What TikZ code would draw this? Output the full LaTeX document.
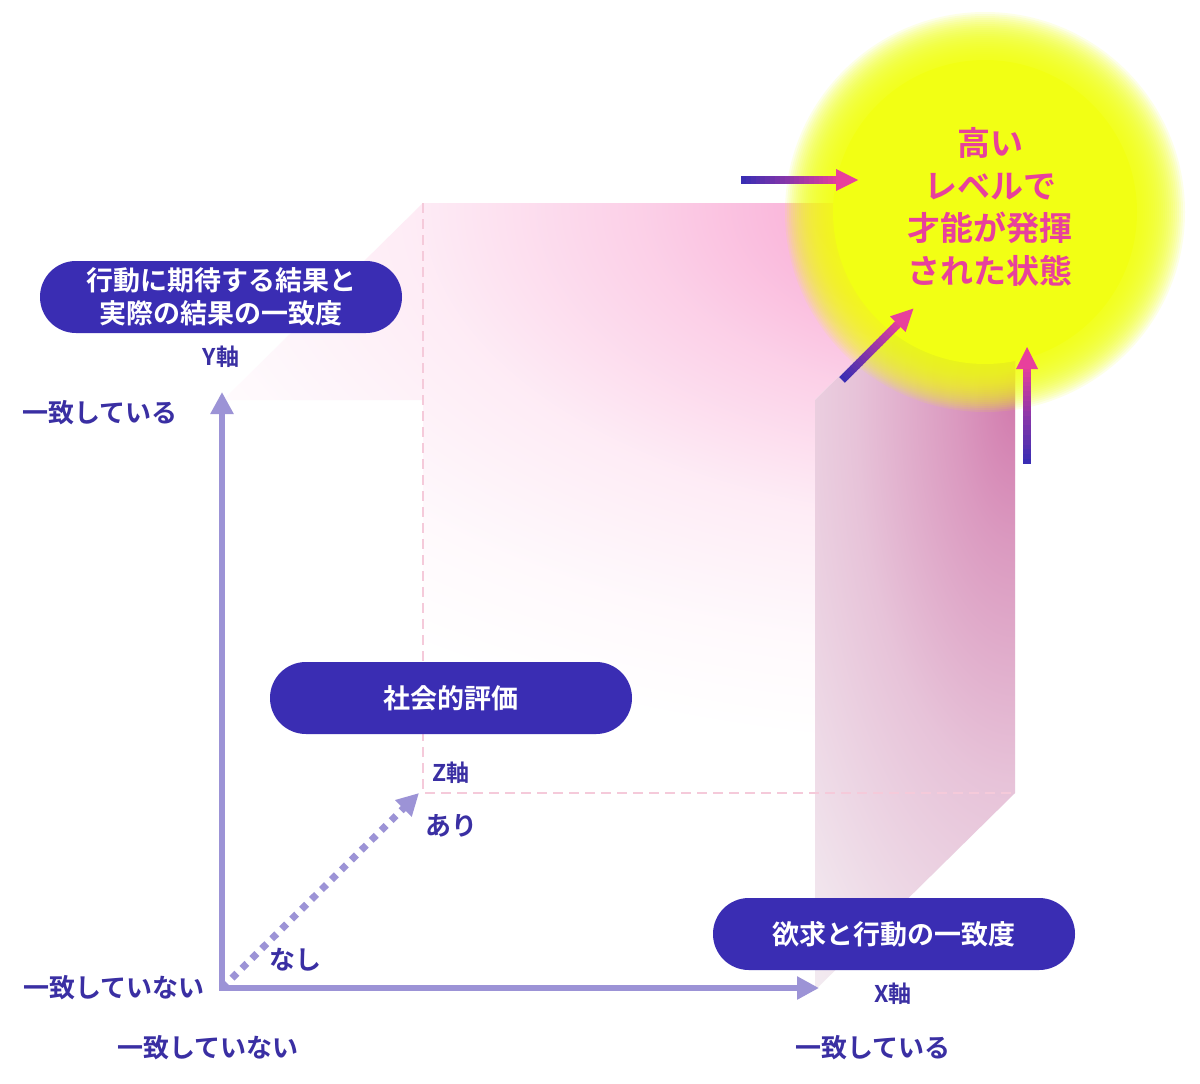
\documentclass[tikz,border=0pt]{standalone}
\usepackage{fontspec}
\setmainfont{Noto Sans CJK JP}[BoldFont={Noto Sans CJK JP Bold}]
\usetikzlibrary{arrows.meta}
\definecolor{indigo}{HTML}{3A2DB3}
\definecolor{txtblue}{HTML}{3A2FA3}
\definecolor{axisc}{HTML}{9C93D6}
\definecolor{magc}{HTML}{E8409C}
\definecolor{pinkc}{HTML}{F89FCF}
\definecolor{mauve}{HTML}{D27CAE}
\definecolor{faceout}{HTML}{F5F2F5}
\definecolor{glowy}{HTML}{F2FF14}
\definecolor{dashpink}{HTML}{F5CADA}
\pgfdeclareradialshading{cubepink}{\pgfpoint{0bp}{0bp}}{color(0bp)=(pinkc); color(3bp)=(pinkc!85!white); color(7bp)=(pinkc!50!white); color(11.5bp)=(pinkc!20!white); color(16bp)=(pinkc!6!white); color(19.5bp)=(white); color(50bp)=(white)}
\pgfdeclareradialshading{facemauve}{\pgfpoint{0bp}{0bp}}{color(0bp)=(mauve); color(3bp)=(mauve!75!faceout); color(8bp)=(mauve!40!faceout); color(14bp)=(mauve!12!faceout); color(18bp)=(faceout); color(50bp)=(faceout)}
\newcommand{\gradarrow}[4]{%
  \begin{scope}[shift={(#1,#2)},rotate=#3]
    \foreach \i in {0,...,19}{%
      \pgfmathsetmacro\pa{(\i/20)*(#4-20)}%
      \pgfmathsetmacro\pb{((\i+1)/20)*(#4-20)+0.8}%
      \pgfmathtruncatemacro\pc{100-\i*5}%
      \fill[indigo!\pc!magc] (\pa,-4) rectangle (\pb,4);
    }
    \fill[magc] (#4-22,-11) -- (#4,0) -- (#4-22,11) -- cycle;
  \end{scope}}
\tikzset{
  pill/.style={fill=indigo, rounded corners=35.9pt, minimum width=362pt, minimum height=72pt,
    text=white, font=\bfseries\fontsize{27}{33}\selectfont, align=center, inner sep=0pt},
  lbl/.style={text=txtblue, font=\bfseries\fontsize{26}{30}\selectfont, inner sep=0pt},
  axlbl/.style={text=txtblue, font=\bfseries\fontsize{23}{28}\selectfont, inner sep=0pt},
  axisline/.style={draw=axisc, line width=6pt, -{Triangle[length=22pt,width=22pt]}},
  backedge/.style={draw=dashpink, line width=2pt, dash pattern=on 10pt off 6pt},
}
\begin{document}
\begin{tikzpicture}[x=1pt,y=-1pt]
\useasboundingbox (0,0) rectangle (1200,1084);
\fill[white] (0,0) rectangle (1200,1084);
% back + top face pink
\begin{scope}
  \clip (223,400) -- (423,203) -- (1015,203) -- (1015,793) -- (423,793) -- (423,400) -- cycle;
  \shade[shading=cubepink] (1010,205) ellipse [x radius=1300, y radius=700];
\end{scope}
% right face
\begin{scope}
  \clip (815,400) -- (1015,203) -- (1015,793) -- (815,990) -- cycle;
  \fill[faceout] (815,200) rectangle (1015,990);
  \shade[shading=facemauve] (1015,400) ellipse [x radius=500, y radius=1200];
\end{scope}
% back dashed edges
\coordinate (btl) at (423,203);
\coordinate (bbl) at (423,793);
\coordinate (bbr) at (1015,793);
\draw[backedge] (btl) -- (bbl) -- (bbr);
% glow
\coordinate (G) at (985,212);
\foreach \r in {200,198,...,154}{\fill[glowy, opacity=0.1] (G) circle (\r);}
\fill[glowy] (G) circle (152);
% gradient arrows
\gradarrow{741}{180}{0}{117}
\gradarrow{842}{380}{45}{101}
\gradarrow{1027}{464}{90}{117}
% axes
\coordinate (O) at (222,988);
\coordinate (ytip) at (222,392);
\coordinate (xtip) at (819,988);
\coordinate (ztip) at (419,793);
\coordinate (Ox) at (219,988);
\draw[axisline] (O) -- (ytip);
\draw[axisline] (Ox) -- (xtip);
\draw[axisc, line width=7pt, dash pattern=on 7pt off 7pt, -{Triangle[length=22pt,width=22pt]}] (O) -- (ztip);
% pills
\node[pill] (ypill) at (221,297) {行動に期待する結果と\\実際の結果の一致度};
\node[pill] (zpill) at (451,698) {社会的評価};
\node[pill] (xpill) at (894,934) {欲求と行動の一致度};
% axis labels
\node[axlbl] (ylab) at (221,357) {Y軸};
\node[axlbl] (zlab) at (451,773) {Z軸};
\node[axlbl] (xlab) at (893,994) {X軸};
\node[lbl] (yhigh) at (100,413) {一致している};
\node[lbl] (ylow) at (114,988) {一致していない};
\node[lbl] (xlow) at (208,1048) {一致していない};
\node[lbl] (xhigh) at (873,1048) {一致している};
\node[lbl] (zlow) at (295,960) {なし};
\node[lbl] (zhigh) at (451,826) {あり};
% glow text
\node[text=magc, font=\bfseries\fontsize{33}{42.5}\selectfont, align=center, inner sep=0pt] (goal) at (990,207)
  {高い\\レベルで\\才能が発揮\\された状態};
\end{tikzpicture}
\end{document}
